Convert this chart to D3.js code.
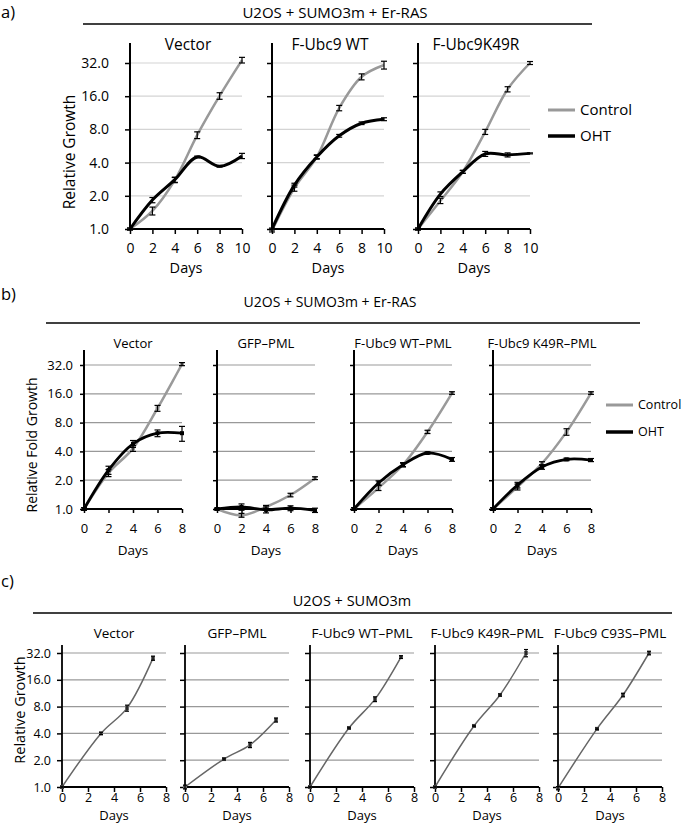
<!DOCTYPE html>
<html><head><meta charset="utf-8">
<script src="https://cdn.jsdelivr.net/npm/d3@7"></script>
<style>
body{margin:0;background:#fff;}
svg{display:block;font-family:"Open Sans",sans-serif;}
</style></head>
<body><svg id="c" width="685" height="825"></svg>
<script>
// ---------- DATA ----------
const yTickValues = [1, 2, 4, 8, 16, 32];
const yTickLabels = ["1.0", "2.0", "4.0", "8.0", "16.0", "32.0"];
const seriesNames = ["Control", "OHT"];

// Panel a
const aTitle = "U2OS + SUMO3m + Er-RAS";
const aDays = [0, 2, 4, 6, 8, 10];
const aXTicks = [0, 2, 4, 6, 8, 10];
const aCategories = ["Vector", "F-Ubc9 WT", "F-Ubc9K49R"];
const aControl = [
  [1.0, 1.46, 2.78, 7.1, 16.1, 34.0],
  [0.97, 2.35, 4.5, 12.5, 24.0, 30.7],
  [1.0, 1.8, 3.3, 7.6, 18.5, 32.0]
];
const aControlErr = [
  [0.02, 0.12, 0.15, 0.5, 1.1, 2.0],
  [0.03, 0.15, 0.2, 0.7, 1.5, 2.5],
  [0.02, 0.1, 0.1, 0.4, 1.0, 1.0]
];
const aOHT = [
  [1.0, 1.83, 2.8, 4.5, 3.7, 4.6],
  [1.0, 2.5, 4.5, 7.0, 9.1, 9.9],
  [1.0, 2.07, 3.3, 4.8, 4.7, 4.85]
];
const aOHTErr = [
  [0.02, 0.1, 0.15, 0.08, 0.06, 0.25],
  [0.02, 0.1, 0.15, 0.2, 0.25, 0.3],
  [0.02, 0.1, 0.1, 0.25, 0.2, 0.05]
];

// Panel b
const bTitle = "U2OS + SUMO3m + Er-RAS";
const bDays = [0, 2, 4, 6, 8];
const bXTicks = [0, 2, 4, 6, 8];
const bCategories = ["Vector", "GFP\u2013PML", "F-Ubc9 WT\u2013PML", "F-Ubc9 K49R\u2013PML"];
const bControl = [
  [1.0, 2.38, 4.3, 11.3, 32.7],
  [1.0, 0.86, 1.05, 1.4, 2.1],
  [1.0, 1.66, 2.9, 6.4, 16.3],
  [1.0, 1.7, 3.0, 6.4, 16.3]
];
const bControlErr = [
  [0.03, 0.2, 0.3, 0.8, 1.2],
  [0.02, 0.04, 0.04, 0.06, 0.07],
  [0.03, 0.1, 0.12, 0.25, 0.5],
  [0.03, 0.12, 0.12, 0.5, 0.5]
];
const bOHT = [
  [1.0, 2.55, 4.8, 6.2, 6.2],
  [1.0, 1.05, 0.98, 1.02, 0.97],
  [1.0, 1.87, 2.9, 3.85, 3.3],
  [1.0, 1.78, 2.75, 3.3, 3.25]
];
const bOHTErr = [
  [0.03, 0.25, 0.4, 0.5, 1.1],
  [0.02, 0.08, 0.07, 0.06, 0.05],
  [0.03, 0.1, 0.15, 0.1, 0.15],
  [0.03, 0.12, 0.15, 0.1, 0.12]
];

// Panel c
const cTitle = "U2OS + SUMO3m";
const cDays = [0, 3, 5, 7];
const cXTicks = [0, 2, 4, 6, 8];
const cCategories = ["Vector", "GFP\u2013PML", "F-Ubc9 WT\u2013PML", "F-Ubc9 K49R\u2013PML", "F-Ubc9 C93S\u2013PML"];
const cValues = [
  [1.0, 4.0, 7.7, 28.0],
  [1.0, 2.06, 2.97, 5.66],
  [1.0, 4.6, 9.7, 28.8],
  [1.0, 4.85, 10.8, 32.0],
  [0.97, 4.5, 10.8, 32.0]
];
const cErr = [
  [0.02, 0.12, 0.6, 1.5],
  [0.05, 0.05, 0.2, 0.3],
  [0.02, 0.1, 0.6, 1.0],
  [0.02, 0.1, 0.3, 3.0],
  [0.04, 0.1, 0.5, 1.5]
];

// ---------- DRAWING ----------
const svg = d3.select("#c");
const FONT = '"Open Sans", sans-serif';

function header(label, lx, ly, title, tx, ty, x1, x2, lineY, fs) {
  svg.append("text").attr("x", lx).attr("y", ly).attr("font-size", 16.5).text(label);
  svg.append("text").attr("x", tx).attr("y", ty).attr("font-size", fs)
    .attr("text-anchor", "middle").text(title);
  svg.append("line").attr("x1", x1).attr("x2", x2).attr("y1", lineY).attr("y2", lineY)
    .attr("stroke", "#000").attr("stroke-width", 1.5);
}

function subplot(o) {
  const g = svg.append("g");
  const x = d3.scaleLinear().domain([0, o.xMax]).range([o.x0, o.x0 + o.w]);
  const y = d3.scaleLog().base(2).domain([1, 32]).range([o.yBottom, o.yTop]);
  // gridlines
  g.selectAll("line.grid").data(yTickValues.slice(1)).enter().append("line")
    .attr("x1", o.x0).attr("x2", o.x0 + o.w)
    .attr("y1", d => y(d)).attr("y2", d => y(d))
    .attr("stroke", o.gridColor).attr("stroke-width", o.gridWidth);
  // y axis
  const yAxis = d3.axisLeft(y).tickValues(yTickValues).tickSize(o.tick).tickPadding(o.yPad)
    .tickFormat((d, i) => o.showYLabels ? yTickLabels[i] : "");
  const ya = g.append("g").attr("transform", `translate(${o.x0},0)`).call(yAxis);
  ya.attr("font-size", o.tickFs).attr("font-family", FONT);
  ya.select(".domain").remove();
  ya.selectAll("line").attr("stroke", "#000").attr("stroke-width", 1.5);
  ya.selectAll("text").style("font-size", o.tickFs + "px").style("font-family", FONT).attr("fill", "#000");
  g.append("line").attr("x1", o.x0).attr("x2", o.x0).attr("y1", o.axisTop).attr("y2", o.yBottom)
    .attr("stroke", "#000").attr("stroke-width", o.axisWidth);
  // x axis
  const xAxis = d3.axisBottom(x).tickValues(o.xTicks).tickSize(o.tick).tickFormat(d3.format("d"));
  const xa = g.append("g").attr("transform", `translate(0,${o.yBottom})`).call(xAxis);
  xa.attr("font-size", o.tickFs).attr("font-family", FONT);
  xa.select(".domain").remove();
  xa.selectAll("line").attr("stroke", "#000").attr("stroke-width", 1.5);
  xa.selectAll("text").style("font-size", o.tickFs + "px").style("font-family", FONT).attr("fill", "#000")
    .attr("y", o.xLabelOff).attr("dy", null);
  g.append("line").attr("x1", o.x0).attr("x2", o.x0 + o.w).attr("y1", o.yBottom).attr("y2", o.yBottom)
    .attr("stroke", "#000").attr("stroke-width", o.axisWidth);
  // title
  g.append("text").attr("x", o.x0 + o.w / 2 + (o.titleDx || 0)).attr("y", o.titleY)
    .attr("text-anchor", "middle").attr("font-size", o.titleFs).text(o.title);
  // x label
  g.append("text").attr("x", o.x0 + o.w / 2).attr("y", o.daysY)
    .attr("text-anchor", "middle").attr("font-size", o.daysFs).text("Days");
  // series
  const line = d3.line().x(d => x(d[0])).y(d => y(d[1])).curve(d3.curveCatmullRom.alpha(0.5));
  o.series.forEach(s => {
    const pts = o.days.map((d, i) => [d, s.values[i], s.err[i]]);
    g.append("path").datum(pts).attr("d", line).attr("fill", "none")
      .attr("stroke", s.color).attr("stroke-width", s.width).attr("stroke-linejoin", "round");
    if (s.marker) {
      g.selectAll(null).data(pts).enter().append("rect")
        .attr("x", d => x(d[0]) - s.marker / 2).attr("y", d => y(d[1]) - s.marker / 2)
        .attr("width", s.marker).attr("height", s.marker).attr("fill", s.markerColor);
    }
    const eb = g.selectAll(null).data(pts).enter().append("g");
    eb.append("line").attr("x1", d => x(d[0])).attr("x2", d => x(d[0]))
      .attr("y1", d => y(d[1] + d[2])).attr("y2", d => y(Math.max(0.5, d[1] - d[2])))
      .attr("stroke", "#000").attr("stroke-width", 1.2);
    [1, -1].forEach(sg => {
      eb.append("line").attr("x1", d => x(d[0]) - o.cap).attr("x2", d => x(d[0]) + o.cap)
        .attr("y1", d => y(Math.max(0.5, d[1] + sg * d[2]))).attr("y2", d => y(Math.max(0.5, d[1] + sg * d[2])))
        .attr("stroke", "#000").attr("stroke-width", 1.2);
    });
  });
}

function yLabel(text, x, yc, fs) {
  svg.append("text").attr("transform", `translate(${x},${yc}) rotate(-90)`)
    .attr("text-anchor", "middle").attr("font-size", fs).text(text);
}

function legend(x, y1, y2, fs) {
  const items = [[seriesNames[0], "#999", 3, y1], [seriesNames[1], "#000", 3.5, y2]];
  items.forEach(it => {
    svg.append("line").attr("x1", x).attr("x2", x + 27).attr("y1", it[3]).attr("y2", it[3])
      .attr("stroke", it[1]).attr("stroke-width", it[2]);
    svg.append("text").attr("x", x + 32).attr("y", it[3]).attr("dy", "0.35em")
      .attr("font-size", fs).text(it[0]);
  });
}

// ---- Panel a ----
header("a)", 1, 18, aTitle, 335, 18, 83, 592, 24, 15);
const aX0 = [130, 272, 418];
aCategories.forEach((cat, k) => {
  subplot({
    x0: aX0[k], w: 112, xMax: 10, yBottom: 229, yTop: 63, axisTop: 43,
    gridColor: "#d4d4d4", gridWidth: 1.2, axisWidth: 2, tick: 5, yPad: 16, cap: 3,
    showYLabels: k === 0, tickFs: 14, xLabelOff: 24,
    title: cat, titleY: 50, titleFs: 15.5, titleDx: 2, daysY: 273, daysFs: 14.5,
    xTicks: aXTicks, days: aDays,
    series: [
      { values: aControl[k], err: aControlErr[k], color: "#999", width: 2.5 },
      { values: aOHT[k], err: aOHTErr[k], color: "#000", width: 3 }
    ]
  });
});
yLabel("Relative Growth", 75, 152, 15.5);
legend(548, 110, 136, 15);

// ---- Panel b ----
header("b)", 1, 300, bTitle, 330, 307, 46, 640, 323, 14);
const bX0 = [84, 217, 354, 493];
bCategories.forEach((cat, k) => {
  subplot({
    x0: bX0[k], w: 98, xMax: 8, yBottom: 509, yTop: 365, axisTop: 350,
    gridColor: "#999", gridWidth: 1.2, axisWidth: 2, tick: 4, yPad: 7, cap: 3,
    showYLabels: k === 0, tickFs: 13, xLabelOff: 24,
    title: cat, titleY: 348, titleFs: 13, titleDx: 0, daysY: 555, daysFs: 13.5,
    xTicks: bXTicks, days: bDays,
    series: [
      { values: bControl[k], err: bControlErr[k], color: "#9a9a9a", width: 2.5, marker: 4, markerColor: "#999" },
      { values: bOHT[k], err: bOHTErr[k], color: "#000", width: 2.8, marker: 4, markerColor: "#000" }
    ]
  });
});
yLabel("Relative Fold Growth", 37, 445, 14);
legend(606, 405, 432, 12.5);

// ---- Panel c ----
header("c)", 1, 587, cTitle, 352, 606, 33, 672, 613, 14.5);
const cX0 = [62, 185, 310, 435, 558];
cCategories.forEach((cat, k) => {
  subplot({
    x0: cX0[k], w: 104, xMax: 8, yBottom: 787, yTop: 653, axisTop: 645,
    gridColor: "#999", gridWidth: 1.2, axisWidth: 1.8, tick: 5, yPad: 6, cap: 2,
    showYLabels: k === 0, tickFs: 12.5, xLabelOff: 15,
    title: cat, titleY: 638, titleFs: 13.5, titleDx: 0, daysY: 819.5, daysFs: 13,
    xTicks: cXTicks, days: cDays,
    series: [
      { values: cValues[k], err: cErr[k], color: "#666", width: 1.5, marker: 4, markerColor: "#666" }
    ]
  });
});
yLabel("Relative Growth", 25, 710, 14.5);
</script>
</body></html>
